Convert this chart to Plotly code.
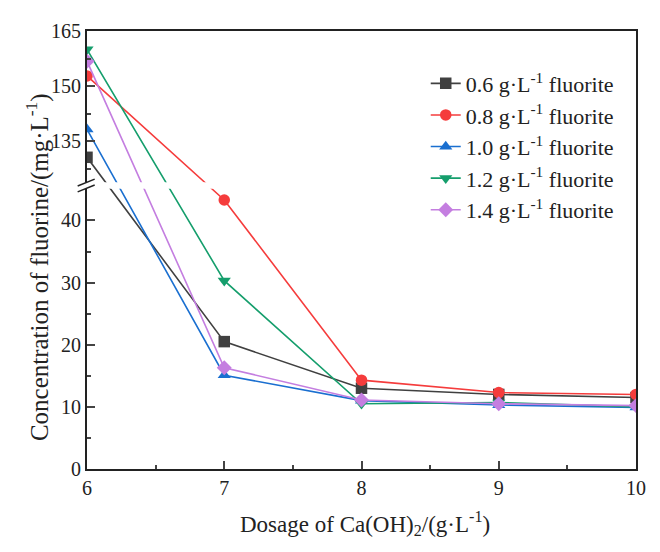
import plotly.graph_objects as go

dosage = [6, 7, 8, 9, 10]
series_names = ["0.6 g·L<sup>-1</sup> fluorite", "0.8 g·L<sup>-1</sup> fluorite",
                "1.0 g·L<sup>-1</sup> fluorite", "1.2 g·L<sup>-1</sup> fluorite",
                "1.4 g·L<sup>-1</sup> fluorite"]
f06 = [130.7, 20.5, 13.0, 12.0, 11.5]
f08 = [152.8, 43.3, 14.3, 12.3, 12.0]
f10 = [138.3, 15.1, 11.0, 10.3, 9.9]
f12 = [160.0, 30.3, 10.5, 10.7, 10.0]
f14 = [156.8, 16.3, 11.1, 10.5, 10.2]
colors = ["#404040", "#f53c3c", "#1a6fd0", "#159e6c", "#c47ee0"]
symbols = ["square", "circle", "triangle-up", "triangle-down", "diamond"]

lower_ticks = [0, 10, 20, 30, 40]
upper_ticks = [135, 150, 165]
lower_minor = [5, 15, 25, 35]
upper_minor = [127.5, 142.5, 157.5]

# broken axis: lower segment 0..45, upper segment 123..165 (compressed)
LOW_MAX, UP_MIN, UP_MAX, GAP, K = 45.0, 123.0, 165.0, 0.6, 0.5926


def disp(v):
    return v if v <= LOW_MAX else LOW_MAX + GAP + (v - UP_MIN) * K


fig = go.Figure()
for name, ys, c, s in zip(series_names, [f06, f08, f10, f12, f14], colors, symbols):
    fig.add_trace(go.Scatter(
        x=dosage, y=[disp(v) for v in ys], customdata=ys, name=name,
        mode="lines+markers",
        line=dict(color=c, width=1.6),
        marker=dict(symbol=s, size=11.5, color=c),
        hovertemplate="%{x}, %{customdata}<extra></extra>",
    ))

font = "Liberation Serif"
ytv = [disp(v) for v in lower_ticks + upper_ticks]
ytt = [str(v) for v in lower_ticks + upper_ticks]

# page body has an 8px margin, so margins are shifted to compensate
fig.update_layout(
    width=660, height=552,
    margin=dict(l=79, r=32, t=18, b=91),
    paper_bgcolor="white", plot_bgcolor="white",
    font=dict(family=font, size=20, color="#222"),
    showlegend=True,
    legend=dict(x=0.617, y=0.928, xanchor="left", yanchor="top",
                bgcolor="rgba(0,0,0,0)", font=dict(family=font, size=22, color="#222"),
                tracegroupgap=0),
    xaxis=dict(range=[6, 10], tickvals=dosage, ticks="inside", ticklen=8, tickwidth=1.5,
               showline=True, linecolor="#222", linewidth=2, mirror=True,
               showgrid=False, zeroline=False,
               minor=dict(tickvals=[6.5, 7.5, 8.5, 9.5], ticks="inside", ticklen=4,
                          tickwidth=1.5, showgrid=False),
               tickfont=dict(size=20)),
    yaxis=dict(range=[0, disp(UP_MAX)], tickmode="array", tickvals=ytv, ticktext=ytt,
               ticks="inside", ticklen=8, tickwidth=1.5,
               showline=True, linecolor="#222", linewidth=2, mirror=True,
               showgrid=False, zeroline=False,
               minor=dict(tickmode="array", tickvals=[disp(v) for v in lower_minor + upper_minor],
                          ticks="inside", ticklen=4, tickwidth=1.5, showgrid=False),
               tickfont=dict(size=20)),
)

# white break band interrupting lines and the left axis
fig.add_shape(type="rect", xref="paper", yref="y", x0=-0.03, x1=0.3,
              y0=LOW_MAX + 0.1, y1=LOW_MAX + GAP + 0.55, fillcolor="white",
              line=dict(width=0), layer="above")
for yc in [LOW_MAX + 0.15, LOW_MAX + GAP + 0.5]:
    fig.add_shape(type="line", xref="paper", yref="y", x0=-0.017, x1=0.014,
                  y0=yc - 0.55, y1=yc + 0.55, line=dict(color="#222", width=1.5),
                  layer="above")

fig.add_annotation(text="Concentration of fluorine/(mg·L<sup>-1</sup>)", xref="paper", yref="paper",
                   x=-0.09, y=0.46, xanchor="center", yanchor="middle", textangle=-90,
                   showarrow=False, font=dict(family=font, size=25, color="#222"))
fig.add_annotation(text="Dosage of Ca(OH)<sub>2</sub>/(g·L<sup>-1</sup>)", xref="paper", yref="paper",
                   x=0.506, y=-0.125, xanchor="center", yanchor="middle",
                   showarrow=False, font=dict(family=font, size=23, color="#222"))

fig.write_html("out.html")
